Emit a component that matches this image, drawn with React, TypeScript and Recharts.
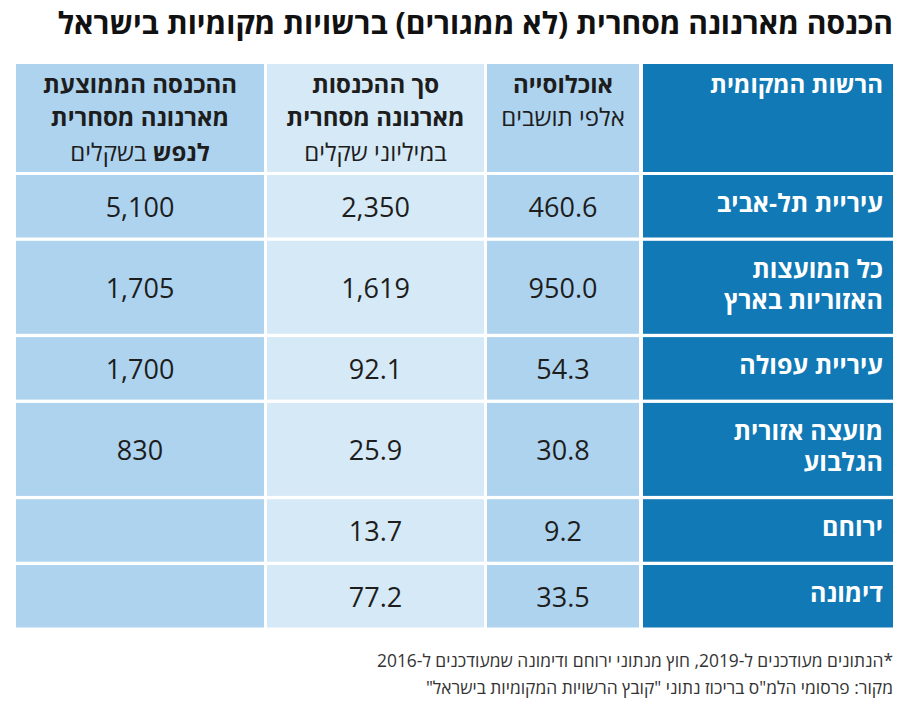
import React from "react";
import { ComposedChart, XAxis, YAxis, ReferenceArea, Scatter } from "recharts";

// ---------- data ----------
const title = "הכנסה מארנונה מסחרית (לא ממגורים) ברשויות מקומיות בישראל";
const authorities = [
  "עיריית תל-אביב",
  "כל המועצות\nהאזוריות בארץ",
  "עיריית עפולה",
  "מועצה אזורית\nהגלבוע",
  "ירוחם",
  "דימונה",
];
const population = [460.6, 950.0, 54.3, 30.8, 9.2, 33.5];
const totalIncome = [2350, 1619, 92.1, 25.9, 13.7, 77.2];
const perCapitaIncome: (number | null)[] = [5100, 1705, 1700, 830, null, null];

type Seg = { t: string; b: boolean };
const headerName: Seg[][] = [[{ t: "הרשות המקומית", b: true }]];
const headerPopulation: Seg[][] = [
  [{ t: "אוכלוסייה", b: true }],
  [{ t: "אלפי תושבים", b: false }],
];
const headerTotal: Seg[][] = [
  [{ t: "סך ההכנסות", b: true }],
  [{ t: "מארנונה מסחרית", b: true }],
  [{ t: "במיליוני שקלים", b: false }],
];
const headerPerCapita: Seg[][] = [
  [{ t: "ההכנסה הממוצעת", b: true }],
  [{ t: "מארנונה מסחרית", b: true }],
  [
    { t: "לנפש", b: true },
    { t: " בשקלים", b: false },
  ],
];
const footnotes = [
  "*הנתונים מעודכנים ל-2019, חוץ מנתוני ירוחם ודימונה שמעודכנים ל-2016",
  'מקור: פרסומי הלמ"ס בריכוז נתוני "קובץ הרשויות המקומיות בישראל"',
];

// ---------- layout / style ----------
const W = 914;
const H = 710;
const FONT = "'Open Sans', 'DejaVu Sans', sans-serif";
const columns = [
  { x1: 643, x2: 893, fill: "#1079b6", kind: "name" },
  { x1: 487, x2: 639, fill: "#aed3ee", kind: "num" },
  { x1: 267, x2: 484, fill: "#d6e9f6", kind: "num" },
  { x1: 16, x2: 264, fill: "#aed3ee", kind: "num" },
];
const HEADER_TOP = 64;
const HEADER_BOTTOM = 172;
const BODY_TOP = 175;
const ROW_SINGLE = 62.5;
const ROW_DOUBLE = 93;
const ROW_GAP = 3.3;

const fmtPop = (v: number) => v.toFixed(1);
const fmtTotal = (v: number) =>
  v >= 1000 ? v.toLocaleString("en-US") : v.toFixed(1);
const fmtPer = (v: number | null) =>
  v == null ? "" : v.toLocaleString("en-US");

const rows = authorities.map((name, i) => ({
  name,
  population: population[i],
  total: totalIncome[i],
  perCapita: perCapitaIncome[i],
}));

// compute row extents
const rowExtents: { y1: number; y2: number }[] = [];
{
  let y = BODY_TOP;
  rows.forEach((r) => {
    const n = r.name.split("\n").length;
    const h = n > 1 ? ROW_DOUBLE : ROW_SINGLE;
    rowExtents.push({ y1: y, y2: y + h });
    y += h + ROW_GAP;
  });
}
const anchorPoints = [
  { x: 0, y: 0 },
  { x: W, y: H },
];

const headers = [headerName, headerPopulation, headerTotal, headerPerCapita];
const headerBaselines = [28.5, 62, 96.5];

function HeaderShape(props: any) {
  const { x, y, width, height, col, lines } = props;
  const isName = col.kind === "name";
  return (
    <g>
      <rect x={x} y={y} width={width} height={height} fill={col.fill} />
      {lines.map((segs: Seg[], i: number) => (
        <text
          key={i}
          x={isName ? x + width - 10 : x + width / 2}
          y={y + headerBaselines[i]}
          textAnchor={isName ? "end" : "middle"}
          fontFamily={FONT}
          fontSize={24}
          fill={isName ? "#ffffff" : "#1d1d1d"}
        >
          {segs.map((s, k) => (
            <tspan key={k} fontWeight={s.b ? 700 : 400}>
              {s.t}
            </tspan>
          ))}
        </text>
      ))}
    </g>
  );
}

function CellShape(props: any) {
  const { x, y, width, height, col, label } = props;
  const isName = col.kind === "name";
  const lines: string[] = String(label).split("\n");
  const n = lines.length;
  const cy = y + height / 2;
  return (
    <g>
      <rect x={x} y={y} width={width} height={height} fill={col.fill} />
      {lines.map((t, i) => (
        <text
          key={i}
          x={isName ? x + width - 10 : x + width / 2}
          y={isName ? cy + 6 + (i - (n - 1) / 2) * 31 : cy + 11}
          textAnchor={isName ? "end" : "middle"}
          fontFamily={FONT}
          fontSize={isName ? 25 : 27}
          fontWeight={isName ? 700 : 400}
          fill={isName ? "#ffffff" : "#1d1d1d"}
        >
          {t}
        </text>
      ))}
    </g>
  );
}

export default function App() {
  const cellValues = (r: (typeof rows)[number]) => [
    r.name,
    fmtPop(r.population),
    fmtTotal(r.total),
    fmtPer(r.perCapita),
  ];
  return (
    <div
      style={{
        position: "relative",
        width: W,
        height: H,
        margin: -8,
        background: "#ffffff",
        fontFamily: FONT,
      }}
    >
      <ComposedChart
        width={W}
        height={H}
        margin={{ top: 0, right: 0, bottom: 0, left: 0 }}
      >
        <XAxis type="number" dataKey="x" domain={[0, W]} hide />
        <YAxis type="number" dataKey="y" domain={[0, H]} reversed hide />
        <Scatter
          data={anchorPoints}
          dataKey="y"
          shape={() => <g />}
          isAnimationActive={false}
        />
        {columns.map((col, c) => (
          <ReferenceArea
            key={"h" + c}
            x1={col.x1}
            x2={col.x2}
            y1={HEADER_TOP}
            y2={HEADER_BOTTOM}
            ifOverflow="visible"
            shape={(p: any) => (
              <HeaderShape {...p} col={col} lines={headers[c]} />
            )}
          />
        ))}
        {rows.map((r, ri) =>
          columns.map((col, c) => (
            <ReferenceArea
              key={"c" + ri + "-" + c}
              x1={col.x1}
              x2={col.x2}
              y1={rowExtents[ri].y1}
              y2={rowExtents[ri].y2}
              ifOverflow="visible"
              shape={(p: any) => (
                <CellShape {...p} col={col} label={cellValues(r)[c]} />
              )}
            />
          ))
        )}
      </ComposedChart>
      <div
        dir="rtl"
        style={{
          position: "absolute",
          right: 21,
          top: 3,
          fontSize: 30,
          lineHeight: "40px",
          fontWeight: 700,
          color: "#111111",
          whiteSpace: "nowrap",
        }}
      >
        {title}
      </div>
      <div
        dir="rtl"
        style={{
          position: "absolute",
          right: 21,
          top: 647,
          fontSize: 17.4,
          lineHeight: "27px",
          color: "#333333",
          whiteSpace: "nowrap",
          textAlign: "right",
        }}
      >
        {footnotes.map((f, i) => (
          <div key={i}>{f}</div>
        ))}
      </div>
    </div>
  );
}
